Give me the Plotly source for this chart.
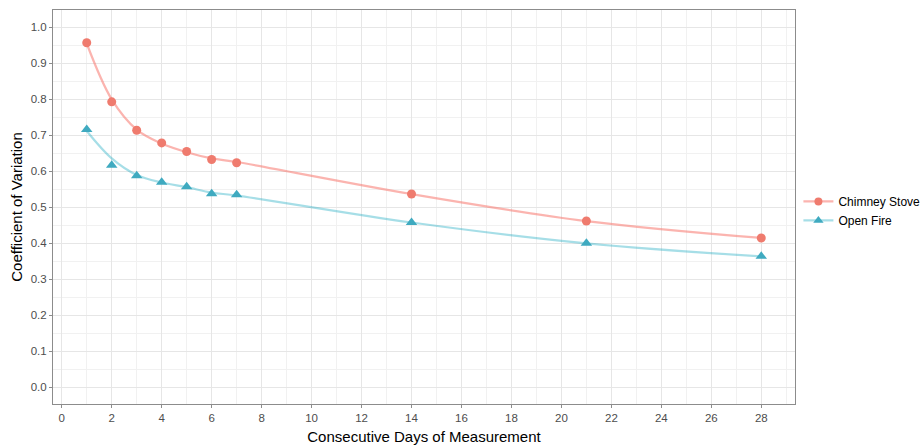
import plotly.graph_objects as go

days = [1, 2, 3, 4, 5, 6, 7, 14, 21, 28]
chimney_cv = [0.957, 0.793, 0.714, 0.679, 0.655, 0.633, 0.624, 0.537, 0.462, 0.415]
open_cv = [0.716, 0.617, 0.588, 0.570, 0.557, 0.538, 0.535, 0.458, 0.400, 0.364]
# smoothed (loess) curve values at the same days
chimney_fit = [0.955, 0.800, 0.716, 0.677, 0.653, 0.636, 0.626, 0.537, 0.462, 0.415]
open_fit = [0.712, 0.636, 0.590, 0.569, 0.556, 0.541, 0.533, 0.458, 0.400, 0.364]

series_names = ["Chimney Stove", "Open Fire"]
point_colors = ["#EF7B6E", "#3FAAC0"]
line_colors = ["rgba(248,118,109,0.55)", "rgba(0,160,185,0.35)"]
symbols = ["circle", "triangle-up"]

fig = go.Figure()
for name, vals, fit, pc, lc, sym in zip(series_names, [chimney_cv, open_cv],
                                        [chimney_fit, open_fit], point_colors,
                                        line_colors, symbols):
    fig.add_trace(go.Scatter(x=days, y=fit, mode="lines", line=dict(color=lc, width=2.2, shape="spline", smoothing=1.0),
                             showlegend=False, hoverinfo="skip"))
    fig.add_trace(go.Scatter(x=days, y=vals, mode="markers", name=name,
                             marker=dict(color=pc, symbol=sym, size=9 if sym == "circle" else 10),
                             showlegend=False))
    fig.add_trace(go.Scatter(x=[None], y=[None], mode="lines+markers", name=name,
                             line=dict(color=lc, width=2.2),
                             marker=dict(color=pc, symbol=sym, size=8 if sym == "circle" else 9)))

axis_common = dict(showline=True, linecolor="#8C8C8C", linewidth=1, mirror=True,
                   ticks="outside", ticklen=3, tickcolor="#8C8C8C", automargin=False,
                   showgrid=True, gridcolor="#E6E6E6", gridwidth=1.2, zeroline=False,
                   tickfont=dict(family="Liberation Sans, Arial, sans-serif", size=11.5, color="#4D4D4D"))

fig.update_layout(
    width=921, height=447,
    margin=dict(l=53, r=126, t=10, b=43, autoexpand=False),
    paper_bgcolor="white", plot_bgcolor="white",
    font=dict(family="Liberation Sans, Arial, sans-serif", color="black"),
    xaxis=dict(axis_common, range=[-0.35, 29.35], tickmode="linear", tick0=0, dtick=2,
               minor=dict(dtick=1, tick0=0, showgrid=True, gridcolor="#F1F1F1", gridwidth=0.7, ticks=""),
               title=dict(text="Consecutive Days of Measurement", font=dict(size=15), standoff=8)),
    yaxis=dict(axis_common, range=[-0.046, 1.048], tickmode="linear", tick0=0, dtick=0.1,
               tickformat=".1f",
               minor=dict(dtick=0.05, tick0=0, showgrid=True, gridcolor="#F1F1F1", gridwidth=0.7, ticks=""),
               title=dict(text="Coefficient of Variation", font=dict(size=15), standoff=4)),
    legend=dict(x=1.0046, y=0.49, xanchor="left", yanchor="middle",
                font=dict(size=12, color="black"), bgcolor="rgba(0,0,0,0)",
                tracegroupgap=0, itemwidth=30),
)

# remove the default page margin so the figure fills the 921x447 window exactly
fig.write_html("out.html", config={"displayModeBar": False},
               post_script="document.body.style.margin='0';document.body.style.overflow='hidden';")
